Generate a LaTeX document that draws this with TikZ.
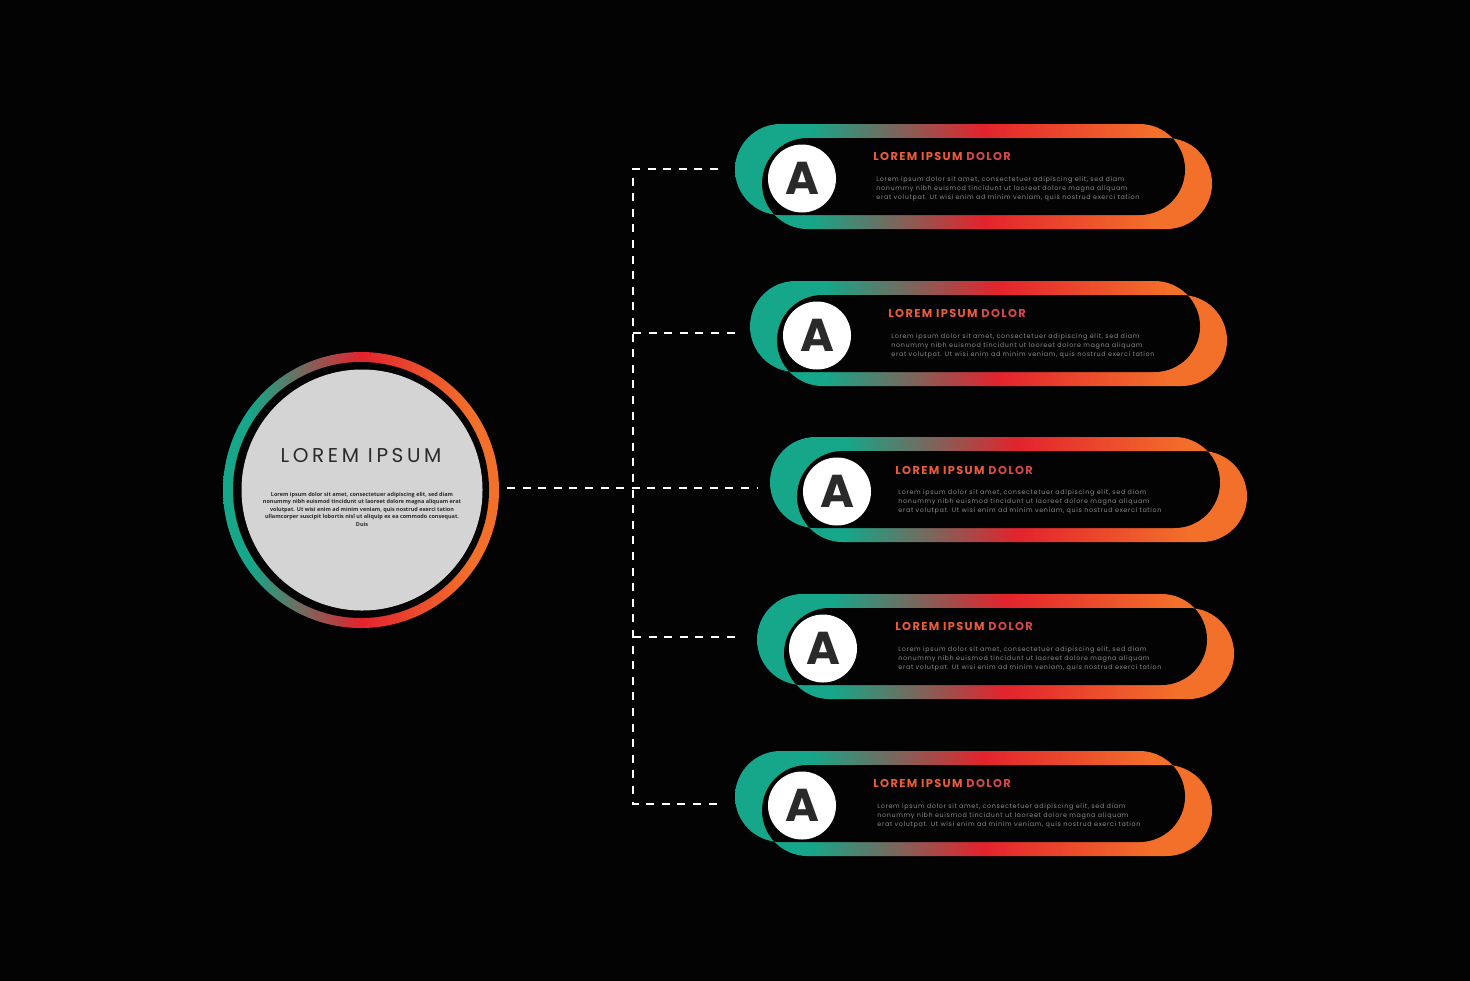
\documentclass[tikz,border=0pt]{standalone}
\usepackage{fontspec}
\setmainfont{Poppins}
\newfontfamily\osans{Open Sans}
\definecolor{cteal}{RGB}{22,166,137}
\definecolor{cred}{RGB}{227,35,45}
\definecolor{corange}{RGB}{243,112,42}
\definecolor{ctitle}{RGB}{234,92,58}
\definecolor{cdolor}{RGB}{214,72,74}
\definecolor{cbody}{RGB}{140,140,140}
\definecolor{cgray}{RGB}{212,212,212}
\definecolor{cdark}{RGB}{42,42,42}
\definecolor{cbg}{RGB}{3,3,3}
\pgfdeclarehorizontalshading{pillshade}{100bp}{color(0bp)=(cteal); color(33bp)=(cteal); color(51bp)=(cred); color(69bp)=(corange); color(100bp)=(corange)}
\pgfdeclarehorizontalshading{ringshade}{100bp}{color(0bp)=(cteal); color(30bp)=(cteal); color(50bp)=(cred); color(70bp)=(corange); color(100bp)=(corange)}
\newcommand\drawpill[2]{%
  \shade[shading=pillshade, rounded corners=22.75pt] (#1,#2) rectangle ++(450,91) (#1+27,#2+14) rectangle ++(450,91);
  \begin{scope}
    \clip[rounded corners=22.75pt] (#1,#2) rectangle ++(450,91);
    \fill[cbg, rounded corners=22.75pt] (#1+27,#2+14) rectangle ++(450,91);
  \end{scope}}
\tikzset{
  badge/.style={circle, fill=white, minimum size=34pt, inner sep=0pt, text=cdark,
    font=\fontsize{23}{23}\selectfont\bfseries},
  ptitle/.style={anchor=west, inner sep=0pt, text=ctitle,
    font=\fontsize{5.7}{6}\selectfont\bfseries\addfontfeatures{LetterSpace=12}},
  pbody/.style={anchor=north west, inner sep=0pt, align=left, text=cbody,
    font=\fontsize{3.2}{4.35}\selectfont\addfontfeatures{LetterSpace=10}},
  dashline/.style={draw=white, line width=1.2pt, dash pattern=on 4pt off 3.8pt}
}
\newcommand\bodytext{Lorem ipsum dolor sit amet, consectetuer adipiscing elit, sed diam\\nonummy nibh euismod tincidunt ut laoreet dolore magna aliquam\\erat volutpat. Ut wisi enim ad minim veniam, quis nostrud exerci tation}
\begin{document}
\begin{tikzpicture}[x=0.5pt, y=-0.5pt]
\useasboundingbox (0,0) rectangle (1470,980);
\fill[cbg] (-10,-10) rectangle (1480,990);

% hub
\shade[shading=ringshade] (361,490) circle[radius=69pt];
\fill[cbg] (361,490) circle[radius=64pt];
\node[circle, fill=cgray, minimum size=120.5pt, inner sep=0pt] (hub) at (362,490) {};
\node[inner sep=0pt, text=cdark, font=\fontsize{10}{10}\selectfont\addfontfeatures{LetterSpace=18}] (hubtitle) at (361,455) {LOREM IPSUM};
\node[inner sep=0pt, align=center, text=cdark, font=\osans\fontsize{2.75}{3.75}\selectfont\bfseries] (hubbody) at (362,509)
  {Lorem ipsum dolor sit amet, consectetuer adipiscing elit, sed diam\\nonummy nibh euismod tincidunt ut laoreet dolore magna aliquam erat\\volutpat. Ut wisi enim ad minim veniam, quis nostrud exerci tation\\ullamcorper suscipit lobortis nisl ut aliquip ex ea commodo consequat.\\Duis};

% pills
\drawpill{735}{124}
\drawpill{750}{281}
\drawpill{770}{437}
\drawpill{757}{594}
\drawpill{735}{751}

\node[badge] (a1) at (802,178.5) {A};
\node[badge] (a2) at (817,335.5) {A};
\node[badge] (a3) at (837,491.5) {A};
\node[badge] (a4) at (823,648.5) {A};
\node[badge] (a5) at (802,805.5) {A};

\node[ptitle] (t1) at (873,156) {LOREM IPSUM \textcolor{cdolor}{DOLOR}};
\node[ptitle] (t2) at (888,313) {LOREM IPSUM \textcolor{cdolor}{DOLOR}};
\node[ptitle] (t3) at (895,470) {LOREM IPSUM \textcolor{cdolor}{DOLOR}};
\node[ptitle] (t4) at (895,626) {LOREM IPSUM \textcolor{cdolor}{DOLOR}};
\node[ptitle] (t5) at (873,783) {LOREM IPSUM \textcolor{cdolor}{DOLOR}};

\node[pbody] (b1) at (876,176.5) {\bodytext};
\node[pbody] (b2) at (891,333.5) {\bodytext};
\node[pbody] (b3) at (898,489.5) {\bodytext};
\node[pbody] (b4) at (898,646.5) {\bodytext};
\node[pbody] (b5) at (877,803.5) {\bodytext};

% connectors
\coordinate (j1) at (633,169); \coordinate (e1) at (718,169);
\coordinate (j2) at (633,333); \coordinate (e2) at (735,333);
\coordinate (hubout) at (507,488); \coordinate (e3) at (757,488);
\coordinate (j4) at (633,637); \coordinate (e4) at (740,637);
\coordinate (j5) at (633,804); \coordinate (e5) at (718,804);
\draw[dashline] (e1) -- (j1) -- (j5) -- (e5);
\draw[dashline] (j2) -- (e2);
\draw[dashline] (j4) -- (e4);
\draw[dashline] (hubout) -- (e3);
\end{tikzpicture}
\end{document}
